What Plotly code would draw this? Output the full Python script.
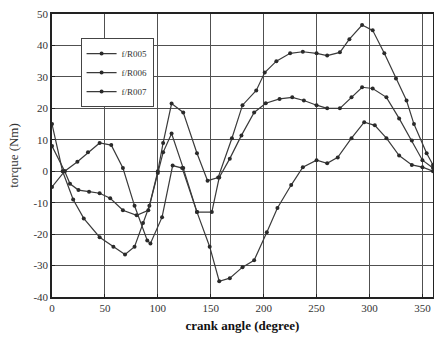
import plotly.graph_objects as go

# series 1 (top curve on the right)
s1_x = [0, 10, 20, 30, 45, 58, 69, 78, 86, 92, 100, 105, 113, 124, 137, 147, 157, 170, 180, 193, 201, 212, 225, 237, 250, 260, 272, 281, 293, 303, 314, 325, 335, 342, 354, 360]
s1_y = [15, 0, -9, -15, -21, -24, -26.5, -24, -16.5, -11, 0, 9, 21.5, 18.7, 5.7, -3, -2, 10.5, 21, 25.7, 31.4, 35, 37.5, 38, 37.5, 36.8, 37.8, 42, 46.5, 44.8, 37.5, 29.5, 22.5, 15, 5.7, 2]

# series 2 (middle curve on the right)
s2_x = [0, 12, 17, 25, 35, 45, 55, 67, 80, 91, 100, 105, 113, 124, 137, 151, 158, 168, 179, 191, 202, 215, 227, 238, 250, 260, 272, 283, 293, 303, 316, 328, 340, 350, 360]
s2_y = [8, 0, -4, -6, -6.5, -7, -8.6, -12.4, -14, -12.4, -0.6, 6, 12, 1, -13, -13, -2, 4, 11.4, 18.7, 21.6, 23, 23.5, 22.5, 21, 20, 20, 23.5, 26.7, 26.3, 23.5, 16.8, 9.8, 3.5, 1]

# series 3 (bottom curve on the right)
s3_x = [0, 12, 24, 34, 45, 56, 67, 78, 90, 93, 104, 114, 123, 137, 149, 158, 168, 180, 191, 203, 213, 226, 237, 250, 260, 270, 283, 295, 305, 316, 328, 340, 350, 360]
s3_y = [-5, 0, 3, 6, 9, 8.3, 1, -11, -22, -23, -14.6, 1.8, 1, -13, -24, -35, -34, -30.5, -28.3, -19.4, -11.7, -4.4, 1.3, 3.5, 2.5, 4.4, 10.5, 15.6, 14.6, 10.5, 5, 2, 1.3, 0]

names = ["f/R005", "f/R006", "f/R007"]
x_ticks = [0, 50, 100, 150, 200, 250, 300, 350]
y_ticks = [-40, -30, -20, -10, 0, 10, 20, 30, 40, 50]

serif = "Liberation Serif, Times New Roman, serif"
line_col = "#3a3a3a"

fig = go.Figure()
for xs, ys, nm in [(s1_x, s1_y, names[0]), (s2_x, s2_y, names[1]), (s3_x, s3_y, names[2])]:
    fig.add_trace(go.Scatter(
        x=xs, y=ys, name=nm, mode="lines+markers",
        line=dict(color=line_col, width=1.2),
        marker=dict(color="#2a2a2a", size=4),
    ))

fig.update_layout(
    width=434, height=340,
    margin=dict(l=52, r=1, t=14, b=43),
    paper_bgcolor="white", plot_bgcolor="white",
    font=dict(family=serif, size=11, color="#333333"),
    showlegend=True,
    legend=dict(
        x=0.075, y=0.915, xanchor="left", yanchor="top",
        bgcolor="white", bordercolor="#444444", borderwidth=1,
        font=dict(family=serif, size=9, color="#333333"),
        itemwidth=30, tracegroupgap=2,
    ),
)
fig.update_xaxes(
    range=[0, 360], tickvals=x_ticks, ticktext=[str(v) for v in x_ticks],
    showgrid=True, gridcolor="#505050", gridwidth=1.4,
    showline=True, linecolor="#222222", linewidth=1.5, mirror=True,
    ticks="inside", ticklen=3, tickcolor="#222222",
    zeroline=False, automargin=False,
    title=dict(text="<b>crank angle (degree)</b>", font=dict(family=serif, size=13, color="#111111"), standoff=8),
)
fig.update_yaxes(
    range=[-40, 50], tickvals=y_ticks, ticktext=[str(v) for v in y_ticks],
    showgrid=True, gridcolor="#505050", gridwidth=1.4,
    showline=True, linecolor="#222222", linewidth=1.5, mirror=True,
    ticks="inside", ticklen=3, tickcolor="#222222",
    zeroline=False, automargin=False,
    title=dict(text="torque (Nm)", font=dict(family=serif, size=13, color="#333333"), standoff=12),
)

# remove the browser's default 8px body margin so the figure fills the window
fig.write_html("out.html", config={"displayModeBar": False},
               post_script="document.body.style.margin='0';")
